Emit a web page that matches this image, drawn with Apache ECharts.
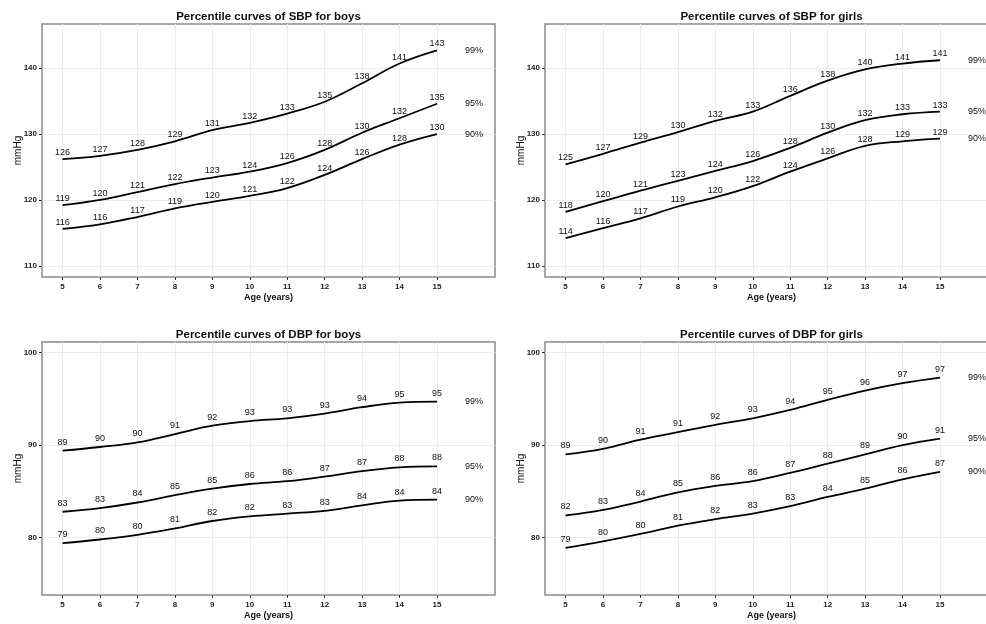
<!DOCTYPE html>
<html>
<head>
<meta charset="utf-8">
<script src="https://cdn.jsdelivr.net/npm/echarts@6/dist/echarts.min.js"></script>
<style>
html,body{margin:0;padding:0;background:#fff;}
#chart{width:986px;height:624px;}
</style>
</head>
<body>
<div id="chart"></div>
<script>
// ---- data ----
const ages = [5, 6, 7, 8, 9, 10, 11, 12, 13, 14, 15];
const percentiles = ['99%', '95%', '90%'];
const panelTitles = ['Percentile curves of SBP for boys', 'Percentile curves of SBP for girls',
                     'Percentile curves of DBP for boys', 'Percentile curves of DBP for girls'];
const sbpTicks = [110, 120, 130, 140];
const dbpTicks = [80, 90, 100];
const xTicks = [5, 6, 7, 8, 9, 10, 11, 12, 13, 14, 15];

// smoothed curve values
const sbpBoys99 = [126.2, 126.7, 127.6, 128.9, 130.6, 131.7, 133.1, 134.9, 137.7, 140.7, 142.7];
const sbpBoys95 = [119.2, 120.0, 121.2, 122.4, 123.4, 124.3, 125.6, 127.6, 130.2, 132.4, 134.6];
const sbpBoys90 = [115.6, 116.3, 117.4, 118.7, 119.7, 120.6, 121.8, 123.8, 126.2, 128.4, 130.0];
const sbpGirls99 = [125.4, 127.0, 128.7, 130.3, 132.0, 133.4, 135.8, 138.1, 139.8, 140.7, 141.2];
const sbpGirls95 = [118.2, 119.8, 121.4, 122.9, 124.4, 125.9, 127.9, 130.2, 132.1, 133.0, 133.4];
const sbpGirls90 = [114.2, 115.7, 117.2, 119.0, 120.4, 122.1, 124.3, 126.3, 128.2, 128.9, 129.3];
const dbpBoys99 = [89.4, 89.8, 90.3, 91.2, 92.1, 92.6, 92.9, 93.4, 94.1, 94.6, 94.7];
const dbpBoys95 = [82.8, 83.2, 83.8, 84.6, 85.3, 85.8, 86.1, 86.6, 87.2, 87.6, 87.7];
const dbpBoys90 = [79.4, 79.8, 80.3, 81.0, 81.8, 82.3, 82.6, 82.9, 83.5, 84.0, 84.1];
const dbpGirls99 = [89.0, 89.6, 90.6, 91.4, 92.2, 92.9, 93.8, 94.9, 95.9, 96.7, 97.3];
const dbpGirls95 = [82.4, 83.0, 83.9, 84.9, 85.6, 86.1, 87.0, 88.0, 89.0, 90.0, 90.7];
const dbpGirls90 = [78.9, 79.6, 80.4, 81.3, 82.0, 82.6, 83.4, 84.4, 85.3, 86.3, 87.1];

// printed labels
const sbpBoys99Lbl = [126, 127, 128, 129, 131, 132, 133, 135, 138, 141, 143];
const sbpBoys95Lbl = [119, 120, 121, 122, 123, 124, 126, 128, 130, 132, 135];
const sbpBoys90Lbl = [116, 116, 117, 119, 120, 121, 122, 124, 126, 128, 130];
const sbpGirls99Lbl = [125, 127, 129, 130, 132, 133, 136, 138, 140, 141, 141];
const sbpGirls95Lbl = [118, 120, 121, 123, 124, 126, 128, 130, 132, 133, 133];
const sbpGirls90Lbl = [114, 116, 117, 119, 120, 122, 124, 126, 128, 129, 129];
const dbpBoys99Lbl = [89, 90, 90, 91, 92, 93, 93, 93, 94, 95, 95];
const dbpBoys95Lbl = [83, 83, 84, 85, 85, 86, 86, 87, 87, 88, 88];
const dbpBoys90Lbl = [79, 80, 80, 81, 82, 82, 83, 83, 84, 84, 84];
const dbpGirls99Lbl = [89, 90, 91, 91, 92, 93, 94, 95, 96, 97, 97];
const dbpGirls95Lbl = [82, 83, 84, 85, 86, 86, 87, 88, 89, 90, 91];
const dbpGirls90Lbl = [79, 80, 80, 81, 82, 83, 83, 84, 85, 86, 87];

// ---- layout ----
const panels = [
  { vals: [sbpBoys99, sbpBoys95, sbpBoys90], lbls: [sbpBoys99Lbl, sbpBoys95Lbl, sbpBoys90Lbl], ticks: sbpTicks, ymin: 108.3, ymax: 146.7, left: 42, top: 24, ld: 2 },
  { vals: [sbpGirls99, sbpGirls95, sbpGirls90], lbls: [sbpGirls99Lbl, sbpGirls95Lbl, sbpGirls90Lbl], ticks: sbpTicks, ymin: 108.3, ymax: 146.7, left: 545, top: 24, ld: 2 },
  { vals: [dbpBoys99, dbpBoys95, dbpBoys90], lbls: [dbpBoys99Lbl, dbpBoys95Lbl, dbpBoys90Lbl], ticks: dbpTicks, ymin: 73.8, ymax: 101.15, left: 42, top: 342, ld: 4 },
  { vals: [dbpGirls99, dbpGirls95, dbpGirls90], lbls: [dbpGirls99Lbl, dbpGirls95Lbl, dbpGirls90Lbl], ticks: dbpTicks, ymin: 73.8, ymax: 101.15, left: 545, top: 342, ld: 4 }
];
const W = 453, H = 253;
const FONT = '"Liberation Sans", Arial, sans-serif';

const grid = [], xAxis = [], yAxis = [], series = [], title = [];
panels.forEach((p, i) => {
  grid.push({ left: p.left, top: p.top, width: W, height: H, show: true, borderColor: '#8a8a8a', borderWidth: 1.5,
    backgroundColor: '#fff', outerBoundsMode: 'none', containLabel: false });
  title.push({ text: panelTitles[i], left: p.left + W / 2, textAlign: 'center', top: p.top - 13, padding: 0,
    textStyle: { fontFamily: FONT, fontSize: 11.5, fontWeight: 'bold', color: '#111' } });
  xAxis.push({
    type: 'value', gridIndex: i, min: 4.45, max: 16.55,
    name: 'Age (years)', nameLocation: 'middle', nameGap: 16, nameMoveOverlap: false,
    nameTextStyle: { fontFamily: FONT, fontSize: 9, fontWeight: 'bold', color: '#111' },
    axisLine: { show: false },
    axisTick: { show: true, length: 3, customValues: xTicks, lineStyle: { color: '#333', width: 1 } },
    axisLabel: { customValues: xTicks, margin: 6, fontFamily: FONT, fontSize: 8, fontWeight: 'bold', color: '#222' },
    splitLine: { show: true, lineStyle: { color: '#ececec', width: 1 } }
  });
  yAxis.push({
    type: 'value', gridIndex: i, min: p.ymin, max: p.ymax,
    name: 'mmHg', nameLocation: 'middle', nameGap: 19, nameMoveOverlap: false,
    nameTextStyle: { fontFamily: FONT, fontSize: 10, color: '#111' },
    axisLine: { show: false },
    axisTick: { show: true, length: 3, customValues: p.ticks, lineStyle: { color: '#333', width: 1 } },
    axisLabel: { customValues: p.ticks, margin: 5, fontFamily: FONT, fontSize: 8, fontWeight: 'bold', color: '#222' },
    splitLine: { show: true, lineStyle: { color: '#ececec', width: 1 } }
  });
  p.vals.forEach((vals, k) => {
    const lbls = p.lbls[k];
    series.push({
      type: 'line', name: percentiles[k], xAxisIndex: i, yAxisIndex: i,
      data: ages.map((a, j) => [a, vals[j]]),
      smooth: 0.4, symbol: 'circle', symbolSize: 0, showSymbol: true,
      lineStyle: { color: '#000', width: 1.8 }, itemStyle: { color: '#000' },
      label: { show: true, position: 'top', distance: p.ld, formatter: (q) => String(lbls[q.dataIndex]),
        fontFamily: FONT, fontSize: 9, color: '#111' },
      endLabel: { show: true, formatter: percentiles[k], distance: 28, fontFamily: FONT, fontSize: 9, color: '#111' },
      emphasis: { disabled: true }, animation: false
    });
  });
});

const chart = echarts.init(document.getElementById('chart'), null, { renderer: 'canvas' });
chart.setOption({ backgroundColor: '#fff', animation: false, title, grid, xAxis, yAxis, series });
</script>
</body>
</html>
